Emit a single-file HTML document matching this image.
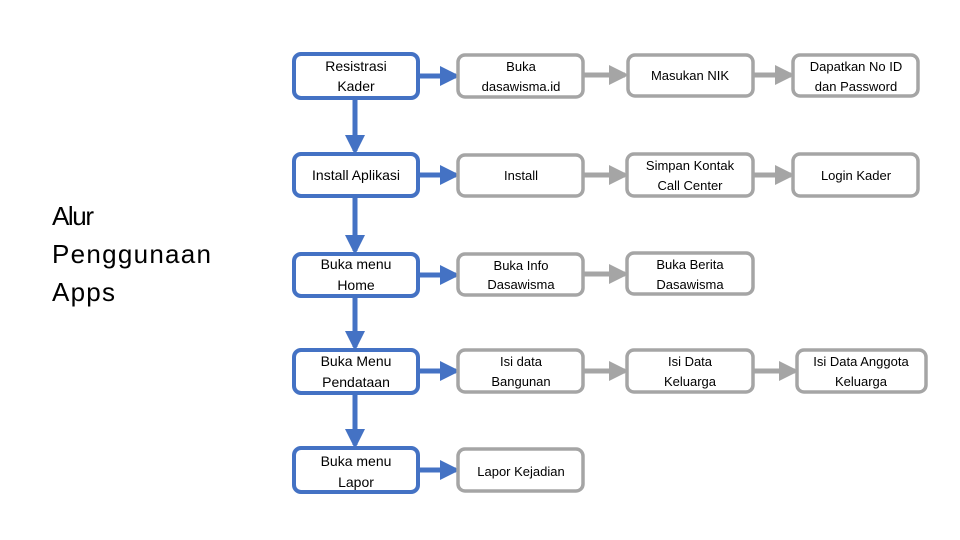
<!DOCTYPE html>
<html><head><meta charset="utf-8"><style>
html,body{margin:0;padding:0;background:#fff;}
svg{display:block;}
text{font-family:"Liberation Sans",sans-serif;fill:#000;}
</style></head><body>
<svg width="960" height="540" viewBox="0 0 960 540" xmlns="http://www.w3.org/2000/svg">
<defs>
<marker id="ab" markerWidth="4" markerHeight="4" refX="3.2" refY="2" orient="auto" markerUnits="strokeWidth"><path d="M0,0 L4,2 L0,4 z" fill="#4472C4"/></marker>
<marker id="ag" markerWidth="4" markerHeight="4" refX="3.2" refY="2" orient="auto" markerUnits="strokeWidth"><path d="M0,0 L4,2 L0,4 z" fill="#A5A5A5"/></marker>
</defs>
<g font-size="26">
<text x="52" y="225" textLength="42">Alur</text>
<text x="52" y="263" textLength="159">Penggunaan</text>
<text x="52" y="301" textLength="63">Apps</text>
</g>
<!-- blue vertical arrows -->
<g stroke="#4472C4" stroke-width="5" fill="none" marker-end="url(#ab)">
<line x1="355" y1="99" x2="355" y2="151"/>
<line x1="355" y1="197" x2="355" y2="251"/>
<line x1="355" y1="297" x2="355" y2="347"/>
<line x1="355" y1="394" x2="355" y2="445"/>
</g>
<g stroke="#4472C4" stroke-width="5" fill="none" marker-end="url(#ab)">
<line x1="419" y1="76" x2="456" y2="76"/>
<line x1="419" y1="175" x2="456" y2="175"/>
<line x1="419" y1="275" x2="456" y2="275"/>
<line x1="419" y1="371" x2="456" y2="371"/>
<line x1="419" y1="470" x2="456" y2="470"/>
</g>
<g stroke="#A5A5A5" stroke-width="5" fill="none" marker-end="url(#ag)">
<line x1="584" y1="75" x2="625" y2="75"/>
<line x1="754" y1="75" x2="791" y2="75"/>
<line x1="584" y1="175" x2="625" y2="175"/>
<line x1="754" y1="175" x2="791" y2="175"/>
<line x1="584" y1="274" x2="625" y2="274"/>
<line x1="584" y1="371" x2="625" y2="371"/>
<line x1="754" y1="371" x2="795" y2="371"/>
</g>
<!-- blue boxes -->
<g fill="#fff" stroke="#4472C4" stroke-width="4">
<rect x="294" y="54" width="124" height="44" rx="7"/>
<rect x="294" y="154" width="124" height="42" rx="7"/>
<rect x="294" y="254" width="124" height="42" rx="7"/>
<rect x="294" y="350" width="124" height="43" rx="7"/>
<rect x="294" y="448" width="124" height="44" rx="7"/>
</g>
<g fill="#fff" stroke="#A5A5A5" stroke-width="3.5">
<rect x="458" y="55" width="125" height="42" rx="7"/>
<rect x="458" y="155" width="125" height="41" rx="7"/>
<rect x="458" y="254" width="125" height="41" rx="7"/>
<rect x="458" y="350" width="125" height="42" rx="7"/>
<rect x="458" y="449" width="125" height="42" rx="7"/>
<rect x="628" y="55" width="125" height="41" rx="7"/>
<rect x="627" y="154" width="126" height="42" rx="7"/>
<rect x="627" y="253" width="126" height="41" rx="7"/>
<rect x="627" y="350" width="126" height="42" rx="7"/>
<rect x="793" y="55" width="125" height="41" rx="7"/>
<rect x="793" y="154" width="125" height="42" rx="7"/>
<rect x="797" y="350" width="129" height="42" rx="7"/>
</g>
<g font-size="14" text-anchor="middle">
<text x="356" y="71">Resistrasi</text><text x="356" y="91">Kader</text>
<text x="356" y="180">Install Aplikasi</text>
<text x="356" y="269">Buka menu</text><text x="356" y="290">Home</text>
<text x="356" y="366">Buka Menu</text><text x="356" y="387">Pendataan</text>
<text x="356" y="466">Buka menu</text><text x="356" y="487">Lapor</text>
</g>
<g font-size="13" text-anchor="middle">
<text x="521" y="71">Buka</text><text x="521" y="91">dasawisma.id</text>
<text x="521" y="180">Install</text>
<text x="521" y="270">Buka Info</text><text x="521" y="289">Dasawisma</text>
<text x="521" y="366">Isi data</text><text x="521" y="386">Bangunan</text>
<text x="521" y="476">Lapor Kejadian</text>
<text x="690" y="80">Masukan NIK</text>
<text x="690" y="170">Simpan Kontak</text><text x="690" y="190">Call Center</text>
<text x="690" y="269">Buka Berita</text><text x="690" y="289">Dasawisma</text>
<text x="690" y="366">Isi Data</text><text x="690" y="386">Keluarga</text>
<text x="856" y="71">Dapatkan No ID</text><text x="856" y="91">dan Password</text>
<text x="856" y="180">Login Kader</text>
<text x="861" y="366">Isi Data Anggota</text><text x="861" y="386">Keluarga</text>
</g>
</svg>
</body></html>
